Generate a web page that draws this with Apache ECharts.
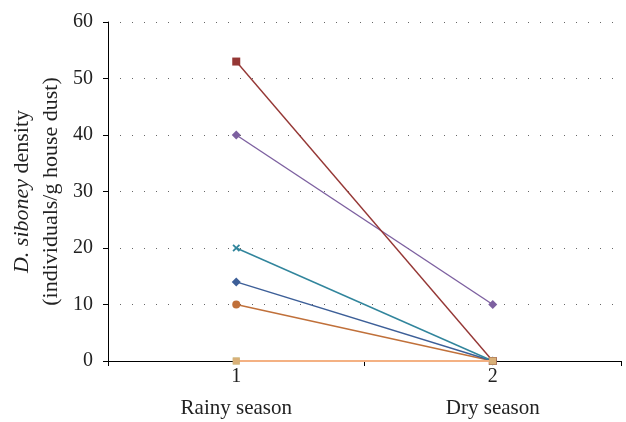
<!DOCTYPE html>
<html>
<head>
<meta charset="utf-8">
<script src="https://cdn.jsdelivr.net/npm/echarts@6/dist/echarts.min.js"></script>
<style>html,body{margin:0;padding:0;background:#fff}#c{width:626px;height:422px}</style>
</head>
<body>
<div id="c"></div>
<script>
var categories = ['1', '2'];
var seasons = ['Rainy season', 'Dry season'];
var yTicks = [0, 10, 20, 30, 40, 50, 60];
var seriesA = [0, 0];     // zero series (green)
var seriesB = [0, 0];     // zero series (light orange)
var seriesC = [10, 0];    // orange
var seriesD = [14, 0];    // blue diamond
var seriesE = [20, 0];    // teal x
var seriesF = [40, 10];   // purple diamond
var seriesG = [53, 0];    // dark red square

var FONT = 'Liberation Serif';
var xPath = 'path://M4,0H6V4H10V6H6V10H4V6H0V4H4Z';

function mk(name, data, color, symbol, size, extra) {
  var s = {
    name: name, type: 'line', data: data, symbol: symbol, symbolSize: size,
    lineStyle: { color: color, width: 1.4 },
    itemStyle: { color: color },
    animation: false, z: 3
  };
  if (extra) for (var k in extra) s[k] = extra[k];
  return s;
}

var chart = echarts.init(document.getElementById('c'));
chart.setOption({
  animation: false,
  grid: { left: 108, right: 5, top: 22, bottom: 61, containLabel: false, outerBoundsMode: 'none' },
  xAxis: [{
    type: 'category', data: categories, boundaryGap: true,
    axisLine: { lineStyle: { color: '#000', width: 1 } },
    axisTick: { show: true, length: 5, lineStyle: { color: '#000' } },
    axisLabel: { color: '#222', fontFamily: FONT, fontSize: 20, margin: 6 },
    splitLine: { show: false }
  }, {
    type: 'category', data: seasons, boundaryGap: true, position: 'bottom',
    axisLine: { show: false }, axisTick: { show: false },
    axisLabel: { color: '#222', fontFamily: FONT, fontSize: 21, margin: 37 },
    splitLine: { show: false }
  }],
  yAxis: {
    type: 'value', min: yTicks[0], max: yTicks[yTicks.length - 1], interval: 10,
    axisLine: { show: true, lineStyle: { color: '#000', width: 1 } },
    axisTick: { show: true, length: 5, lineStyle: { color: '#000' } },
    axisLabel: { color: '#222', fontFamily: FONT, fontSize: 20, margin: 15 },
    splitLine: { show: true, lineStyle: { color: '#666', width: 1, type: [1, 11] } },
    name: '{i|D. siboney} density\n(individuals/g house dust)',
    nameLocation: 'middle', nameGap: 42, nameMoveOverlap: false,
    nameTextStyle: {
      color: '#222', fontFamily: FONT, fontSize: 22, lineHeight: 29,
      rich: { i: { fontStyle: 'italic', fontFamily: FONT, fontSize: 22, lineHeight: 29, color: '#222' } }
    }
  },
  series: [
    mk('C', seriesC, '#c0703a', 'circle', 8),
    mk('D', seriesD, '#3d5f98', 'diamond', 9),
    mk('E', seriesE, '#31859c', xPath, 9, { symbolRotate: 45 }),
    mk('F', seriesF, '#7d60a0', 'diamond', 9),
    mk('G', seriesG, '#953735', 'rect', 8),
    mk('A', seriesA, '#9bb060', 'rect', 7, { z: 4 }),
    mk('B', seriesB, '#f4b183', 'rect', 7, { z: 4, lineStyle: { color: '#f4b183', width: 2.2 }, itemStyle: { color: '#f4b183', opacity: 0.7 } })
  ]
});
</script>
</body>
</html>
